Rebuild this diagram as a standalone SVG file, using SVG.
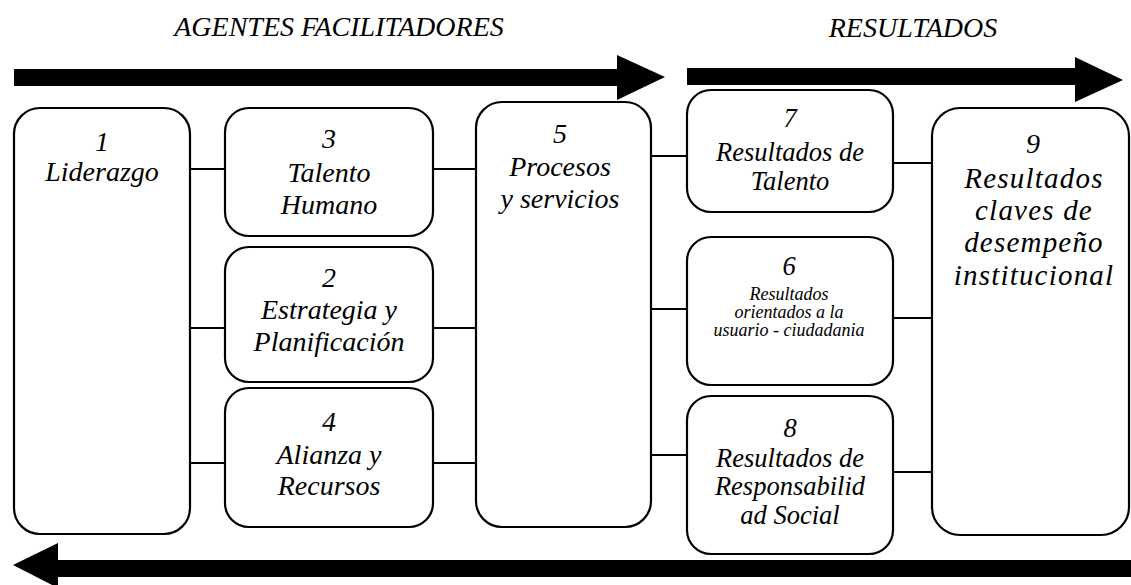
<svg xmlns="http://www.w3.org/2000/svg" width="1131" height="585" viewBox="0 0 1131 585">
<style>
.box{fill:#fff;stroke:#000;stroke-width:2.2}
.t{font-family:"Liberation Serif","Times New Roman",serif;font-style:italic;font-size:28px;fill:#000;text-anchor:middle}
.r{font-size:26.5px}
.w{font-size:29px;letter-spacing:1.2px}
.s{font-family:"Liberation Serif","Times New Roman",serif;font-style:italic;font-size:18px;fill:#000;text-anchor:middle}
.h{font-family:"Liberation Serif","Times New Roman",serif;font-style:italic;font-size:28px;fill:#000;text-anchor:middle}
.c{stroke:#000;stroke-width:2.2;fill:none}
.ar{fill:#000}
</style>
<rect width="1131" height="585" fill="#fff"/>
<text class="h" x="339" y="36">AGENTES FACILITADORES</text>
<text class="h" x="913" y="37">RESULTADOS</text>
<g id="arrows">
<polygon class="ar" points="14,69 617,69 617,55 665,77 617,100 617,86 14,86"/>
<polygon class="ar" points="687,68 1075,68 1075,57 1123,80 1075,102 1075,85 687,85"/>
<polygon class="ar" points="1131,560 58,560 58,543 13,565 58,588 58,577 1131,577"/>
</g>
<g id="connectors">
<line class="c" x1="190" y1="169" x2="225" y2="169"/>
<line class="c" x1="190" y1="328" x2="225" y2="328"/>
<line class="c" x1="190" y1="463" x2="225" y2="463" stroke-width="1.2"/>
<line class="c" x1="433" y1="169" x2="476" y2="169"/>
<line class="c" x1="433" y1="328" x2="476" y2="328"/>
<line class="c" x1="433" y1="463" x2="476" y2="463"/>
<line class="c" x1="651" y1="156" x2="687" y2="156"/>
<line class="c" x1="651" y1="309" x2="687" y2="309"/>
<line class="c" x1="651" y1="455" x2="687" y2="455"/>
<line class="c" x1="893" y1="163" x2="932" y2="163"/>
<line class="c" x1="893" y1="318" x2="932" y2="318"/>
<line class="c" x1="893" y1="472" x2="932" y2="472"/>
</g>
<g id="n1"><rect class="box" x="14" y="108" width="176" height="426" rx="26"/>
<text class="t" x="102" y="151">1</text><text class="t" x="102" y="181">Liderazgo</text></g>
<g id="n3"><rect class="box" x="225" y="108" width="208" height="128" rx="24"/>
<text class="t" x="329" y="148">3</text><text class="t" x="329" y="182">Talento</text><text class="t" x="329" y="214">Humano</text></g>
<g id="n2"><rect class="box" x="225" y="247" width="208" height="135" rx="24"/>
<text class="t" x="329" y="287">2</text><text class="t" x="329" y="319">Estrategia y</text><text class="t" x="329" y="351">Planificación</text></g>
<g id="n4"><rect class="box" x="225" y="388" width="208" height="139" rx="24"/>
<text class="t" x="329" y="431">4</text><text class="t" x="329" y="464">Alianza y</text><text class="t" x="329" y="495">Recursos</text></g>
<g id="n5"><rect class="box" x="476" y="102" width="175" height="425" rx="26"/>
<text class="t" x="560" y="143">5</text><text class="t" x="560" y="176">Procesos</text><text class="t" x="560" y="208">y servicios</text></g>
<g id="n7"><rect class="box" x="687" y="90" width="206" height="122" rx="24"/>
<text class="t r" x="790" y="127">7</text><text class="t r" x="790" y="161">Resultados de</text><text class="t r" x="790" y="190">Talento</text></g>
<g id="n6"><rect class="box" x="687" y="237" width="206" height="148" rx="24"/>
<text class="t r" x="789" y="275">6</text><text class="s" x="789" y="300">Resultados</text><text class="s" x="789" y="318">orientados a la</text><text class="s" x="789" y="336">usuario - ciudadania</text></g>
<g id="n8"><rect class="box" x="687" y="396" width="206" height="158" rx="24"/>
<text class="t r" x="790" y="437">8</text><text class="t r" x="790" y="467">Resultados de</text><text class="t r" x="790" y="495">Responsabilid</text><text class="t r" x="790" y="524">ad Social</text></g>
<g id="n9"><rect class="box" x="932" y="108" width="197" height="427" rx="28"/>
<text class="t" x="1033" y="153">9</text><text class="t w" x="1034" y="188">Resultados</text><text class="t w" x="1034" y="220">claves de</text><text class="t w" x="1034" y="252">desempeño</text><text class="t w" x="1034" y="285">institucional</text></g>
</svg>
